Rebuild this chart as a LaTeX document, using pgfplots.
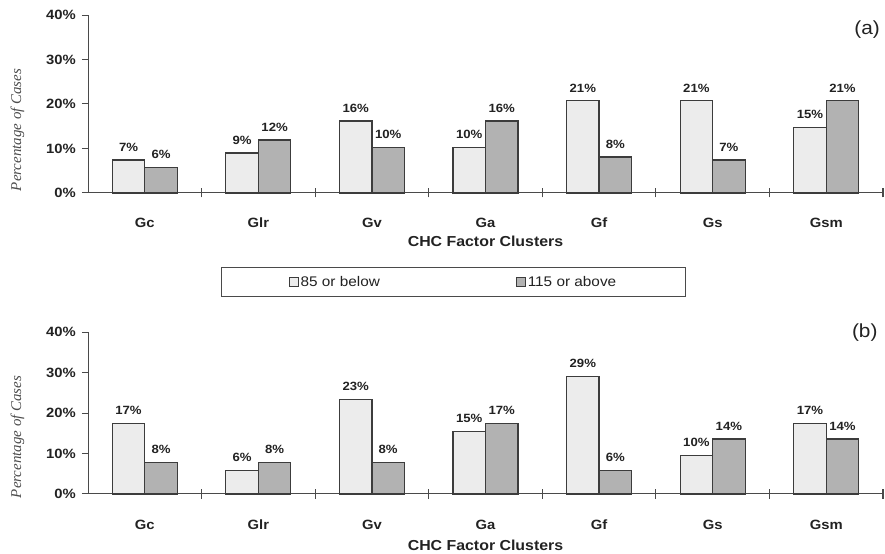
\documentclass[border=0pt]{standalone}
\usepackage{pgfplots}
\pgfplotsset{compat=1.18}
\usepackage{fontspec}
\setmainfont{Liberation Sans}[FakeStretch=1.1]
\newfontfamily\ylabfont{Liberation Serif}

\definecolor{lightbar}{HTML}{ECECEC}
\definecolor{darkbar}{HTML}{B2B2B2}
\definecolor{edge}{HTML}{3C3C3C}
\definecolor{axisgray}{HTML}{4A4A4A}
\definecolor{txt}{HTML}{222222}

\pgfplotsset{
 chc/.style={
  scale only axis, width=795bp, xmin=-0.5, xmax=6.5, ymin=0, ymax=40,
  clip=false,
  ybar=0pt, bar width=32.5bp,
  axis x line=bottom, axis y line=left,
  axis line style={-, axisgray, line width=1bp},
  xtick={0,...,6}, xticklabels={Gc,Glr,Gv,Ga,Gf,Gs,Gsm},
  major x tick style={draw=none},
  minor xtick={0.5,1.5,2.5,3.5,4.5,5.5,6.5},
  minor tick length=9bp,
  minor x tick style={draw=axisgray, line width=1.2bp, yshift=4.5bp},
  ytick={0,10,20,30,40}, yticklabel={\pgfmathprintnumber{\tick}\%},
  /pgf/number format/assume math mode=true,
  tick align=outside, major tick length=6bp,
  ytick style={draw=axisgray, line width=1bp},
  yticklabel style={font=\bfseries\fontsize{13.5}{15}\selectfont, text=txt, anchor=east, inner sep=0pt, xshift=-6bp},
  xticklabel style={font=\bfseries\fontsize{13.5}{15}\selectfont, text=txt, anchor=base, yshift=-29bp},
  ylabel={Percentage of Cases},
  ylabel style={font=\ylabfont\itshape\fontsize{15}{17}\selectfont, text=black!70, anchor=center},
  xlabel={CHC Factor Clusters},
  xlabel style={font=\bfseries\fontsize{14.5}{16}\selectfont, text=txt, anchor=base},
  nodes near coords={\pgfmathprintnumber[fixed,precision=0]{\pgfplotspointmeta}\%},
  every node near coord/.append style={font=\bfseries\fontsize{12}{13}\selectfont, text=txt, anchor=center, yshift=13bp},
  legend image code/.code={\draw[#1, line width=0.9bp] (0bp,-4.5bp) rectangle (9bp,4.5bp);},
 },
 lightplot/.style={fill=lightbar, draw=edge, line width=1.2bp},
 darkplot/.style={fill=darkbar, draw=edge, line width=1.2bp},
}

\begin{document}
\begin{tikzpicture}
\useasboundingbox (0,0) rectangle (885bp,554bp);
% (a)
\begin{axis}[chc, at={(88bp,361bp)}, anchor=south west, height=178bp,
  ylabel style={at={(axis description cs:-0.0886,0.354)}},
  xlabel style={at={(axis description cs:0.5,0)}, yshift=-54bp},
  legend columns=2,
  legend style={at={(axis description cs:0.4597,-0.5)}, anchor=center,
    draw=axisgray, line width=1bp, font=\fontsize{14}{16}\selectfont, text=txt,
    inner xsep=67bp, inner ysep=7bp,
    /tikz/every even column/.append style={column sep=134bp}},
]
\addplot[lightplot] coordinates {(0,7.4) (1,9.0) (2,16.2) (3,10.3) (4,20.7) (5,20.7) (6,14.8)};
\addplot[darkplot] coordinates {(0,5.8) (1,11.9) (2,10.3) (3,16.2) (4,8.1) (5,7.4) (6,20.7)};
\legend{85 or below, 115 or above}
\node[font=\fontsize{19}{22}\selectfont, text=txt] at (rel axis cs:0.98,0.916) {(a)};
\end{axis}
% (b)
\begin{axis}[chc, at={(88bp,60bp)}, anchor=south west, height=162bp,
  ylabel style={at={(axis description cs:-0.0886,0.352)}},
  xlabel style={at={(axis description cs:0.5,0)}, yshift=-56bp},
]
\addplot[lightplot] coordinates {(0,17.4) (1,5.8) (2,23.4) (3,15.4) (4,29.0) (5,9.6) (6,17.4)};
\addplot[darkplot] coordinates {(0,7.7) (1,7.7) (2,7.7) (3,17.4) (4,5.8) (5,13.6) (6,13.6)};
\node[font=\fontsize{19}{22}\selectfont, text=txt] at (rel axis cs:0.977,0.994) {(b)};
\end{axis}
\end{tikzpicture}
\end{document}
